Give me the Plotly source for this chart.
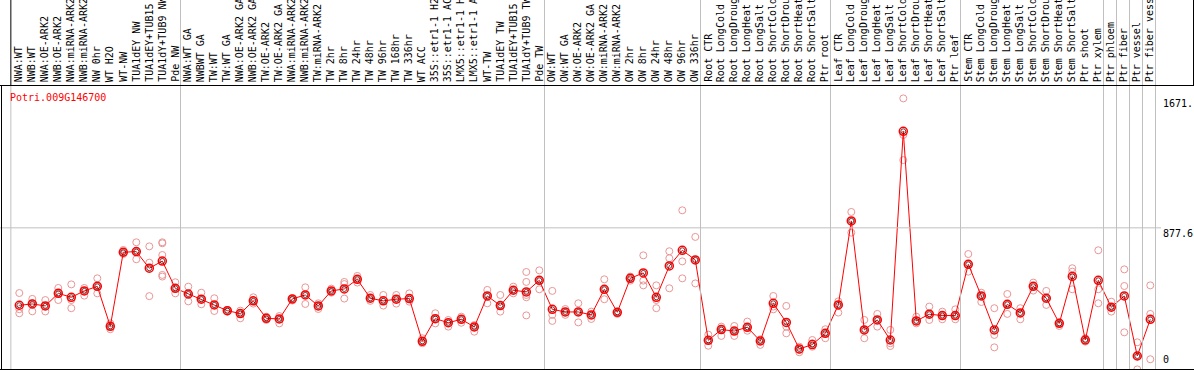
import plotly.graph_objects as go

gene_id = "Potri.009G146700"

samples = [
    "NWA:WT", "NWB:WT", "NWA:OE-ARK2", "NWB:OE-ARK2", "NWA:miRNA-ARK2", "NWB:miRNA-ARK2",
    "NW 0hr", "WT H2O", "WT-NW", "TUA1dEY NW", "TUA1dEY+TUB15 NW", "TUA1dY+TUB9 NW", "Pde NW",
    "NWA:WT GA", "NWBWT GA", "TW:WT", "TW:WT GA", "NWA:OE-ARK2 GA", "NWB:OE-ARK2 GA",
    "TW:OE-ARK2", "TW:OE-ARK2 GA", "NWA:miRNA-ARK2 GA", "NWB:miRNA-ARK2 GA", "TW:miRNA-ARK2",
    "TW 2hr", "TW 8hr", "TW 24hr", "TW 48hr", "TW 96hr", "TW 168hr", "TW 336hr", "WT ACC",
    "35S::etr1-1 H2O", "35S::etr1-1 ACC", "LMX5::etr1-1 H2O", "LMX5::etr1-1 ACC", "WT-TW",
    "TUA1dEY TW", "TUA1dEY+TUB15 TW", "TUA1dY+TUB9 TW", "Pde TW",
    "OW:WT", "OW:WT GA", "OW:OE-ARK2", "OW:OE-ARK2 GA", "OW:miRNA-ARK2", "OW:miRNA-ARK2 GA",
    "OW 2hr", "OW 8hr", "OW 24hr", "OW 48hr", "OW 96hr", "OW 336hr",
    "Root CTR", "Root LongCold", "Root LongDrought", "Root LongHeat", "Root LongSalt",
    "Root ShortCold", "Root ShortDrought", "Root ShortHeat", "Root ShortSalt", "Ptr root",
    "Leaf CTR", "Leaf LongCold", "Leaf LongDrought", "Leaf LongHeat", "Leaf LongSalt",
    "Leaf ShortCold", "Leaf ShortDrought", "Leaf ShortHeat", "Leaf ShortSalt", "Ptr leaf",
    "Stem CTR", "Stem LongCold", "Stem LongDrought", "Stem LongHeat", "Stem LongSalt",
    "Stem ShortCold", "Stem ShortDrought", "Stem ShortHeat", "Stem ShortSalt", "Ptr shoot",
    "Ptr xylem", "Ptr phloem", "Ptr fiber", "Ptr vessel", "Ptr fiber vessel",
]

means = [
    403, 411, 399, 476, 452, 491, 519, 274, 728, 732, 630, 674, 507,
    472, 440, 405, 370, 352, 430, 323, 319, 442, 466, 399, 491, 503, 562, 446, 430, 440,
    444, 182, 321, 296, 317, 270, 460, 401, 495, 485, 556,
    378, 362, 362, 344, 501, 360, 568, 601, 452, 644, 740, 681,
    188, 254, 245, 268, 184, 415, 298, 135, 162, 231,
    405, 920, 252, 313, 190, 1469, 307, 348, 340, 340,
    654, 460, 252, 409, 356, 519, 446, 292, 580, 190, 556,
    391, 460, 92, 317,
]

replicates = [
    [478, 379, 354], [442, 415, 366], [435, 399, 365], [509, 476, 435], [531, 435, 385],
    [509, 491, 462], [568, 519, 476], [292, 274, 256], [742, 728, 717], [789, 732, 685],
    [764, 664, 459], [789, 783, 711, 589, 579], [544, 507, 476],
    [517, 472, 427], [480, 440, 409], [446, 405, 368], [374, 370, 364], [370, 352, 323],
    [452, 430, 413], [333, 323, 313], [337, 319, 292], [446, 440, 432], [513, 466, 411],
    [415, 399, 380], [505, 491, 480], [546, 533, 444], [583, 562, 542], [466, 446, 430],
    [466, 430, 401], [466, 440, 413], [476, 444, 425], [201, 182, 170], [354, 321, 292],
    [313, 296, 272], [333, 317, 296], [282, 270, 241], [497, 460, 415], [466, 401, 364],
    [517, 495, 476], [607, 546, 466, 452, 341], [617, 556, 501],
    [491, 344, 307], [380, 362, 344], [415, 362, 298], [364, 344, 319], [562, 501, 440],
    [364, 360, 350], [579, 568, 554], [709, 554, 525], [525, 435, 385], [734, 691, 507],
    [985, 672, 568], [822, 681, 537],
    [223, 188, 155], [272, 254, 215], [276, 245, 215], [303, 268, 247], [194, 184, 160],
    [460, 395, 378], [399, 272, 231], [149, 129, 115], [190, 170, 149], [256, 231, 201],
    [427, 405, 358], [975, 920, 848], [313, 252, 201], [350, 313, 272], [252, 170, 153],
    [1671, 1447, 1293], [333, 307, 292], [395, 348, 313], [364, 340, 317], [378, 340, 317],
    [717, 654, 609], [480, 460, 423], [385, 221, 145], [472, 409, 350], [385, 356, 317],
    [542, 519, 493], [491, 446, 405], [298, 292, 276], [630, 609, 501], [201, 190, 180],
    [740, 501, 415], [425, 391, 364], [623, 521, 237], [176, 92, 10], [525, 350, 72],
]

# index of the last sample in each separated group
group_ends = [12, 40, 52, 62, 72, 83, 84, 85, 86, 87]

axis_labels = ["1671.", "877.6", "0"]
axis_values = [1671, 877.6, 0]
grid_value = 877.6

# ---------------- layout geometry ----------------
W, H = 1194, 370
PL, PR, PT, PB = 2, 1155, 86, 369  # plot area in pixels
X0, X1 = -1.331, 87.362
Y0, Y1 = 12.3, 1747.0
MONO = "DejaVu Sans Mono"


def px_x(p):
    return (p - PL) / (PR - PL)


def px_y(p):
    return (PB - p) / (PB - PT)


def data_x_to_paper(x):
    return (x - X0) / (X1 - X0)


def data_y_to_paper(y):
    return (y - Y0) / (Y1 - Y0)


rep_x, rep_y = [], []
for i, vals in enumerate(replicates):
    for v in vals:
        rep_x.append(i)
        rep_y.append(v)

xs = list(range(len(samples)))

fig = go.Figure()
fig.add_trace(go.Scatter(
    x=rep_x, y=rep_y, mode="markers",
    marker=dict(symbol="circle-open", size=7, color="rgb(234,150,150)", line=dict(width=1)),
    hoverinfo="skip", showlegend=False,
))
fig.add_trace(go.Scatter(
    x=xs, y=means, mode="lines+markers",
    line=dict(color="#ff0000", width=1),
    marker=dict(symbol="circle-open", size=8, color="#ff0000", line=dict(width=1.5)),
    hoverinfo="skip", showlegend=False,
))
fig.add_trace(go.Scatter(
    x=xs, y=means, mode="markers",
    marker=dict(symbol="circle-open", size=5, color="rgba(60,0,0,0.75)", line=dict(width=1)),
    hoverinfo="skip", showlegend=False,
))

shapes = []
# group separators (gray), spanning header and plot
sep_positions = [-0.65] + [g + 0.4 for g in group_ends]
for k, s in enumerate(sep_positions):
    px = data_x_to_paper(s)
    shapes.append(dict(type="line", xref="paper", yref="paper", x0=px, x1=px,
                       y0=px_y(H), y1=px_y(86), line=dict(color="#c0c0c0", width=1)))
    shapes.append(dict(type="line", xref="paper", yref="paper", x0=px, x1=px,
                       y0=px_y(85), y1=px_y(0),
                       line=dict(color="#000000" if k == 0 else "#c0c0c0", width=1)))
# gridline
gy = data_y_to_paper(grid_value)
shapes.append(dict(type="line", xref="paper", yref="paper", x0=px_x(0), x1=px_x(1161),
                   y0=gy, y1=gy, line=dict(color="#c0c0c0", width=1)))
# black frame lines
shapes.append(dict(type="line", xref="paper", yref="paper", x0=px_x(0), x1=px_x(W),
                   y0=px_y(85.5), y1=px_y(85.5), line=dict(color="#000", width=1)))
shapes.append(dict(type="line", xref="paper", yref="paper", x0=px_x(0), x1=px_x(W),
                   y0=px_y(369.5), y1=px_y(369.5), line=dict(color="#000", width=1)))
shapes.append(dict(type="line", xref="paper", yref="paper", x0=px_x(1.5), x1=px_x(1.5),
                   y0=px_y(85), y1=px_y(370), line=dict(color="#000", width=1)))
shapes.append(dict(type="line", xref="paper", yref="paper", x0=px_x(1193.5), x1=px_x(1193.5),
                   y0=px_y(0), y1=px_y(85), line=dict(color="#000", width=1)))

annotations = []
for i, name in enumerate(samples):
    annotations.append(dict(
        x=i, xref="x", y=px_y(84), yref="paper", text=name, showarrow=False,
        textangle=-90, xanchor="center", yanchor="bottom",
        font=dict(family=MONO, size=10, color="#000"),
    ))
annotations.append(dict(
    x=px_x(8), xref="paper", y=px_y(97), yref="paper", text=gene_id, showarrow=False,
    xanchor="left", yanchor="middle", font=dict(family=MONO, size=10, color="#ff0000"),
))
for lbl, v in zip(axis_labels, axis_values):
    if v == 0:
        yy, ya = px_y(367), "bottom"
    else:
        yy, ya = data_y_to_paper(v) + 2.0 / (PB - PT), "top"
    annotations.append(dict(
        x=px_x(1161), xref="paper", y=yy, yref="paper", text=lbl, showarrow=False,
        xanchor="left", yanchor=ya, font=dict(family=MONO, size=10, color="#000"),
    ))

fig.update_layout(
    width=W, height=H,
    margin=dict(l=PL, r=W - PR, t=PT, b=H - PB, pad=0),
    paper_bgcolor="white", plot_bgcolor="white",
    xaxis=dict(range=[X0, X1], visible=False, fixedrange=True),
    yaxis=dict(range=[Y0, Y1], visible=False, fixedrange=True),
    shapes=shapes, annotations=annotations,
    hovermode=False, showlegend=False,
)

fig.write_html(
    "out.html",
    config={"displayModeBar": False},
    post_script="document.body.style.margin='0';document.body.style.overflow='hidden';",
)
